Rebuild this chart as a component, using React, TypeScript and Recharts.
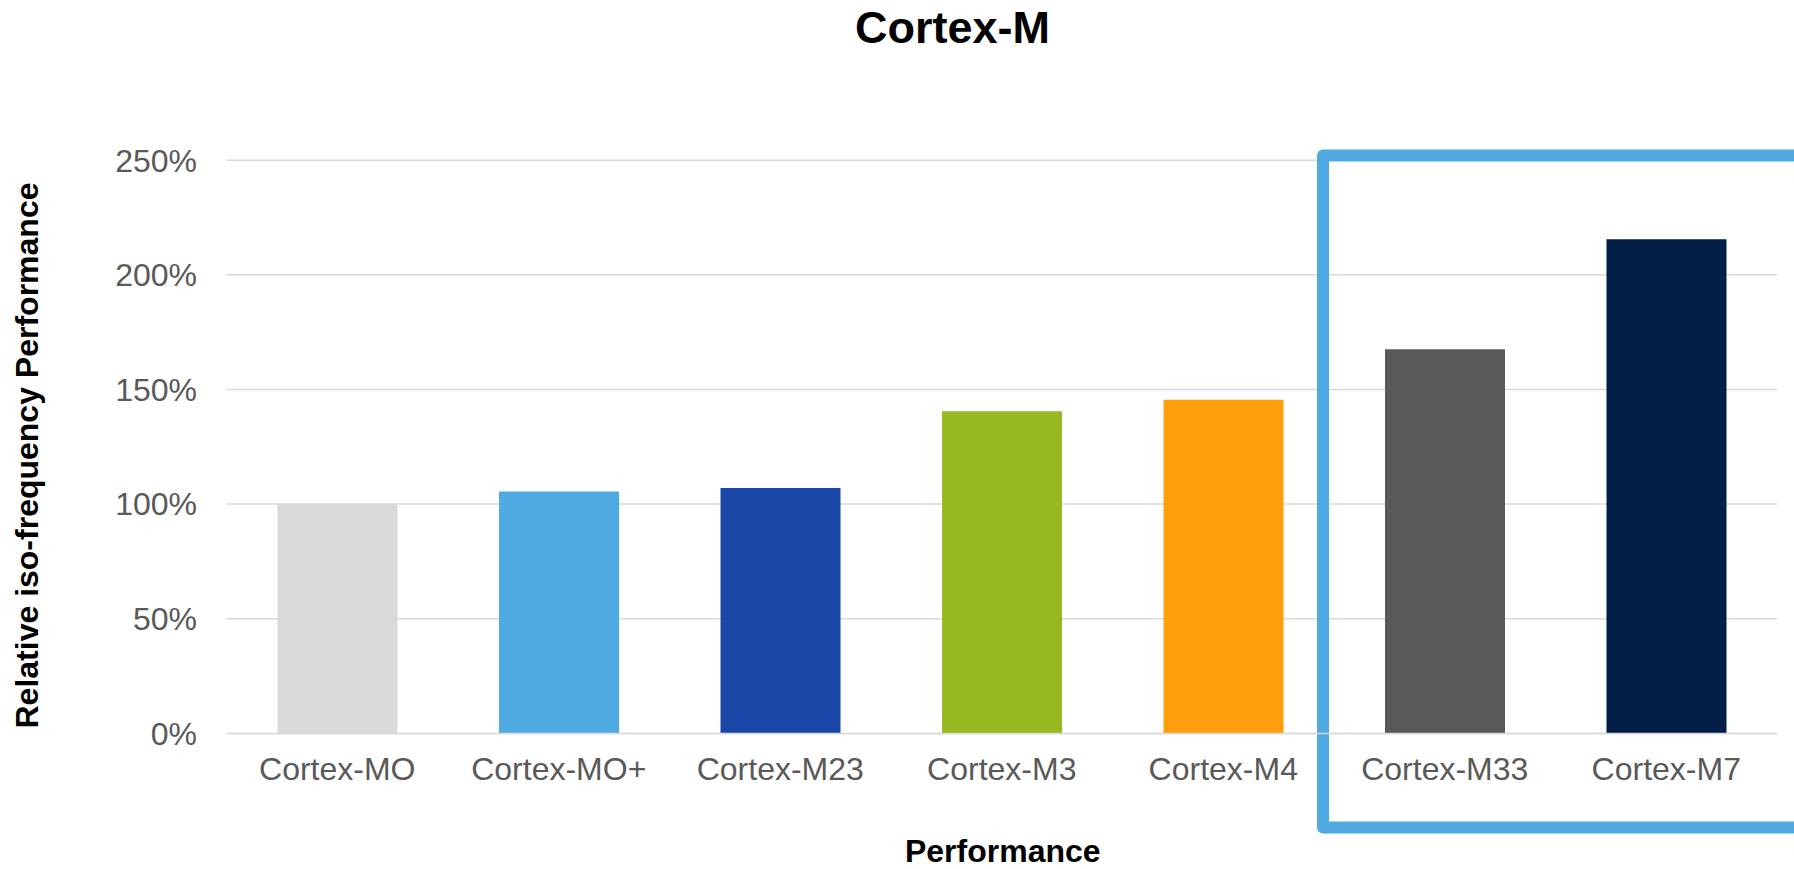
import React from "react";
import {
  BarChart,
  Bar,
  Cell,
  XAxis,
  YAxis,
  CartesianGrid,
  ReferenceArea,
} from "recharts";

const categories = [
  "Cortex-MO",
  "Cortex-MO+",
  "Cortex-M23",
  "Cortex-M3",
  "Cortex-M4",
  "Cortex-M33",
  "Cortex-M7",
];
const performance = [100, 105.5, 107, 140.5, 145.5, 167.5, 215.5];
const barColors = [
  "#D9D9D9",
  "#4FAAE1",
  "#1B48A8",
  "#97B821",
  "#FF9D0B",
  "#58595B",
  "#001E46",
];
const yTicks = [0, 50, 100, 150, 200, 250];
const highlightFrom = "Cortex-M33";
const highlightTo = "Cortex-M7";
const highlightTop = 252;
const highlightBottom = -41;

const title = "Cortex-M";
const xTitle = "Performance";
const yTitle = "Relative iso-frequency Performance";

const FONT = "'Liberation Sans', Arial, Helvetica, sans-serif";

const data = categories.map((name, i) => ({ name, value: performance[i] }));

const HighlightBox = (props: any) => {
  const { x, y, width, height } = props;
  return (
    <rect
      x={x - 11}
      y={y}
      width={width + 80}
      height={height}
      fill="none"
      stroke="#4FAAE1"
      strokeWidth={12}
      strokeLinejoin="round"
    />
  );
};

const YTitle = (props: any) => {
  const vb = props.viewBox || {};
  const cx = vb.x + 38;
  const cy = vb.y + vb.height / 2 + 8.7;
  return (
    <text
      x={cx}
      y={cy}
      transform={`rotate(-90, ${cx}, ${cy})`}
      textAnchor="middle"
      fontFamily={FONT}
      fontSize={32}
      fontWeight="bold"
      fill="#000000"
    >
      {yTitle}
    </text>
  );
};

const XTitle = (props: any) => {
  const vb = props.viewBox || {};
  return (
    <text
      x={vb.x + vb.width / 2 + 1}
      y={vb.y + vb.height - 7}
      textAnchor="middle"
      fontFamily={FONT}
      fontSize={32}
      fontWeight="bold"
      fill="#000000"
    >
      {xTitle}
    </text>
  );
};

export default function App() {
  return (
    <div
      style={{
        position: "fixed",
        left: 0,
        top: 0,
        width: 1794,
        height: 869,
        overflow: "hidden",
        background: "#ffffff",
        fontFamily: FONT,
      }}
    >
      <svg
        width={1794}
        height={60}
        style={{ position: "absolute", left: 0, top: 0 }}
      >
        <text
          x={952.5}
          y={43}
          textAnchor="middle"
          fontFamily={FONT}
          fontSize={45}
          fontWeight="bold"
          fill="#000000"
        >
          {title}
        </text>
      </svg>
      <div style={{ position: "absolute", left: 0, top: 0 }}>
        <BarChart
          width={1794}
          height={869}
          data={data}
          margin={{ top: 160.2, right: 17, bottom: 0, left: 0 }}
          barSize={120}
        >
          <CartesianGrid
            vertical={false}
            stroke="#D9D9D9"
            strokeWidth={1.5}
          />
          <XAxis
            dataKey="name"
            height={135.6}
            interval={0}
            tickLine={false}
            tickSize={6}
            tickMargin={18}
            axisLine={{ stroke: "#D9D9D9", strokeWidth: 1.5 }}
            tick={{ fill: "#595959", fontSize: 32, fontFamily: FONT }}
            label={XTitle}
          />
          <YAxis
            width={226.5}
            domain={[0, 250]}
            ticks={yTicks}
            interval={0}
            allowDataOverflow
            tickLine={false}
            axisLine={false}
            tickSize={6}
            tickMargin={23.5}
            tickFormatter={(v: number) => `${v}%`}
            tick={{ fill: "#595959", fontSize: 32, fontFamily: FONT }}
            label={YTitle}
          />
          <Bar dataKey="value" isAnimationActive={false}>
            {data.map((d, i) => (
              <Cell key={d.name} fill={barColors[i]} />
            ))}
          </Bar>
          <ReferenceArea
            x1={highlightFrom}
            x2={highlightTo}
            y1={highlightBottom}
            y2={highlightTop}
            ifOverflow="visible"
            shape={HighlightBox}
          />
        </BarChart>
      </div>
    </div>
  );
}
